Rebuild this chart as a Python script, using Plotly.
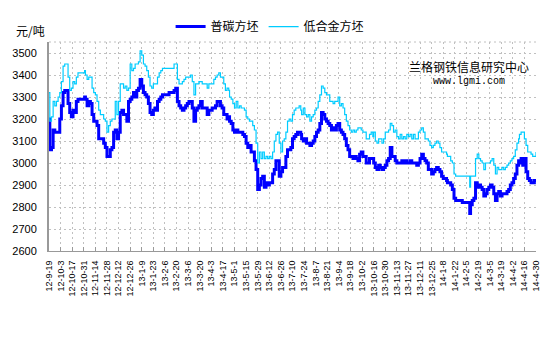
import datetime as dt
import plotly.graph_objects as go

# ---------------- data ----------------
dates = [
    "2012-09-19","2012-09-20","2012-09-22","2012-09-24","2012-09-26","2012-09-28","2012-09-30",
    "2012-10-02","2012-10-04","2012-10-06","2012-10-08","2012-10-10","2012-10-12","2012-10-14","2012-10-16",
    "2012-10-18","2012-10-20","2012-10-22","2012-10-24","2012-10-26","2012-10-28","2012-10-30",
    "2012-11-01","2012-11-02","2012-11-04","2012-11-06","2012-11-08","2012-11-10","2012-11-12","2012-11-14",
    "2012-11-16","2012-11-18","2012-11-20","2012-11-22","2012-11-24","2012-11-26","2012-11-28","2012-11-30",
    "2012-12-02","2012-12-04","2012-12-06","2012-12-08","2012-12-10","2012-12-12","2012-12-14","2012-12-16",
    "2012-12-18","2012-12-20","2012-12-22","2012-12-24","2012-12-26","2012-12-28","2012-12-30",
    "2013-01-01","2013-01-03","2013-01-05","2013-01-07","2013-01-09","2013-01-11","2013-01-13","2013-01-15",
    "2013-01-17","2013-01-19","2013-01-21","2013-01-23","2013-01-25","2013-01-27","2013-01-28","2013-01-30",
    "2013-02-01","2013-02-03","2013-02-05","2013-02-07","2013-02-09","2013-02-11","2013-02-13","2013-02-15",
    "2013-02-17","2013-02-19","2013-02-21","2013-02-23","2013-02-25","2013-02-27",
    "2013-03-01","2013-03-03","2013-03-05","2013-03-07","2013-03-09","2013-03-11","2013-03-13","2013-03-15",
    "2013-03-17","2013-03-19","2013-03-21","2013-03-23","2013-03-25","2013-03-27","2013-03-29","2013-03-31",
    "2013-04-02","2013-04-04","2013-04-06","2013-04-08","2013-04-10","2013-04-12",
    "2013-04-14","2013-04-16","2013-04-18","2013-04-20","2013-04-22","2013-04-24","2013-04-25","2013-04-27","2013-04-29",
    "2013-05-01","2013-05-03","2013-05-05","2013-05-07","2013-05-09","2013-05-11","2013-05-13","2013-05-15",
    "2013-05-17","2013-05-19","2013-05-21","2013-05-23","2013-05-25","2013-05-27","2013-05-29","2013-05-31",
    "2013-06-02","2013-06-04","2013-06-06","2013-06-08","2013-06-10","2013-06-12","2013-06-14","2013-06-16",
    "2013-06-18","2013-06-20","2013-06-22","2013-06-24","2013-06-26","2013-06-28","2013-06-30",
    "2013-07-02","2013-07-04","2013-07-06","2013-07-08","2013-07-10","2013-07-12","2013-07-14","2013-07-16",
    "2013-07-18","2013-07-20","2013-07-21","2013-07-23","2013-07-25","2013-07-27","2013-07-29","2013-07-31",
    "2013-08-02","2013-08-04","2013-08-06","2013-08-08","2013-08-10","2013-08-12","2013-08-14","2013-08-16",
    "2013-08-18","2013-08-20","2013-08-22","2013-08-24","2013-08-26","2013-08-28","2013-08-30",
    "2013-09-01","2013-09-03","2013-09-05","2013-09-07","2013-09-09","2013-09-11","2013-09-13","2013-09-15",
    "2013-09-17","2013-09-19","2013-09-21","2013-09-23","2013-09-25","2013-09-27","2013-09-29",
    "2013-10-01","2013-10-03","2013-10-05","2013-10-07","2013-10-09","2013-10-11","2013-10-13","2013-10-15",
    "2013-10-16","2013-10-18","2013-10-20","2013-10-22","2013-10-24",
    "2013-10-26","2013-10-28","2013-10-30",
    "2013-11-01","2013-11-03","2013-11-05","2013-11-07","2013-11-09","2013-11-11","2013-11-13","2013-11-15",
    "2013-11-17","2013-11-19","2013-11-21","2013-11-23","2013-11-25","2013-11-27","2013-11-29",
    "2013-12-01","2013-12-03","2013-12-05","2013-12-07","2013-12-09","2013-12-11","2013-12-13","2013-12-15",
    "2013-12-17","2013-12-19","2013-12-21","2013-12-23","2013-12-25","2013-12-27","2013-12-29","2013-12-31",
    "2014-01-02","2014-01-04","2014-01-06","2014-01-08","2014-01-10","2014-01-12","2014-01-13","2014-01-15",
    "2014-01-17","2014-01-19","2014-01-21","2014-01-23","2014-01-25","2014-01-27","2014-01-29","2014-01-31",
    "2014-02-02","2014-02-04","2014-02-06","2014-02-08","2014-02-09","2014-02-10","2014-02-12","2014-02-14",
    "2014-02-16","2014-02-18","2014-02-20","2014-02-22","2014-02-24","2014-02-26","2014-02-28",
    "2014-03-02","2014-03-04","2014-03-06","2014-03-08","2014-03-10","2014-03-12","2014-03-14","2014-03-16",
    "2014-03-18","2014-03-20","2014-03-22","2014-03-24","2014-03-26","2014-03-28","2014-03-30",
    "2014-04-01","2014-04-03","2014-04-05","2014-04-07","2014-04-09","2014-04-10","2014-04-12","2014-04-14",
    "2014-04-16","2014-04-18","2014-04-20","2014-04-22","2014-04-24","2014-04-26","2014-04-28","2014-04-30",
]

carbon_billet = [  # 普碳方坯
    3200,3060,3070,3150,3140,3140,3140,
    3200,3260,3320,3330,3330,3270,3230,3210,3240,3230,3280,3290,3290,3290,3290,
    3300,3290,3260,3280,3270,3220,3190,3190,3170,3110,3110,3110,3090,3070,3030,3030,
    3060,3070,3140,3150,3110,3140,3230,3240,3220,3220,3190,3280,3290,3300,3320,
    3300,3330,3340,3380,3350,3320,3310,3300,3270,3230,3220,3240,3250,3240,3280,3290,
    3300,3310,3310,3310,3310,3320,3320,3320,3330,3340,3280,3260,3250,3240,
    3250,3260,3270,3280,3280,3250,3190,3240,3250,3260,3280,3250,3250,3250,3220,3240,
    3240,3250,3250,3260,3280,3280,
    3260,3250,3220,3220,3200,3210,3190,3180,3150,
    3140,3150,3140,3140,3140,3130,3120,3090,3070,3080,3050,3050,3010,2970,2880,2900,
    2930,2940,2890,2910,2900,2910,2910,2950,2970,3010,3010,2940,2960,2980,2980,
    3030,3060,3060,3070,3110,3120,3130,3140,3140,3130,3110,3100,3110,3090,3090,3080,
    3090,3100,3120,3140,3150,3180,3230,3220,3200,3190,3180,3170,3150,3160,3150,
    3170,3180,3150,3140,3130,3110,3080,3060,3030,3030,3020,3030,3020,3010,3040,
    3050,3030,3030,3000,3000,3020,3020,3020,3000,2980,2970,2990,2980,
    2970,2980,2990,
    3010,3020,3070,3030,3030,3010,3000,3000,3000,3010,3000,3010,3000,3000,3010,
    3000,3000,3000,2990,3000,3020,3040,3020,3010,3000,2970,2970,2950,2960,2970,2980,
    2970,2960,2940,2930,2930,2920,2910,2910,2900,2880,2840,2830,2830,2830,2830,2820,
    2820,2820,2820,2820,2770,2810,2830,2840,2910,2890,2900,2890,2880,2850,2860,
    2880,2890,2900,2890,2860,2830,2860,2870,2850,2860,2860,2860,2870,2880,2900,
    2910,2930,2950,2990,3010,3000,3020,2990,3020,2960,2930,2920,2910,2910,2920,2920,
]

low_alloy_billet = [  # 低合金方坯
    3320,3190,3210,3280,3260,3280,3300,
    3320,3370,3440,3450,3450,3390,3330,3340,3370,3360,3390,3410,3410,3410,3410,
    3420,3400,3380,3390,3390,3340,3320,3310,3280,3240,3220,3220,3200,3190,3140,3170,
    3190,3200,3200,3280,3220,3280,3360,3360,3340,3350,3330,3340,3450,3420,3430,
    3450,3450,3460,3510,3490,3450,3440,3420,3390,3350,3340,3360,3360,3360,3390,3410,
    3420,3430,3430,3430,3430,3430,3430,3430,3450,3450,3380,3360,3360,3370,
    3380,3390,3390,3390,3400,3370,3310,3360,3360,3370,3370,3360,3360,3360,3340,3360,
    3360,3360,3380,3390,3400,3410,
    3390,3390,3360,3330,3340,3330,3300,3290,3270,
    3250,3280,3250,3260,3250,3250,3240,3210,3200,3190,3190,3170,3150,3090,3000,3050,
    3020,3050,3020,3030,3020,3030,3020,3050,3100,3130,3140,3090,3050,3100,3110,
    3140,3190,3200,3190,3220,3240,3250,3250,3260,3240,3220,3250,3220,3210,3220,3190,
    3210,3220,3240,3250,3280,3310,3350,3340,3320,3310,3310,3280,3280,3270,3280,
    3280,3300,3260,3270,3250,3220,3190,3170,3150,3140,3150,3140,3150,3160,3160,
    3150,3140,3140,3110,3110,3130,3140,3120,3140,3100,3090,3110,3110,
    3090,3110,3140,
    3140,3150,3180,3170,3140,3150,3120,3110,3130,3110,3120,3110,3130,3120,3130,
    3110,3130,3110,3110,3140,3150,3160,3140,3110,3110,3100,3080,3070,3080,3090,3100,
    3090,3070,3050,3050,3050,3040,3030,3030,3010,3000,2950,2940,2940,2940,2940,2940,
    2940,2940,2940,2940,2890,2940,2940,2940,3020,3040,3020,3010,3000,2970,3000,
    3000,3000,3010,3020,2990,2950,2980,2970,2970,2980,2970,2980,2990,3000,3010,
    3020,3030,3060,3090,3110,3130,3140,3140,3110,3080,3050,3050,3040,3030,3030,3050,
]

tick_labels = [
    "12-9-19","12-10-3","12-10-17","12-10-31","12-11-14","12-11-28","12-12-12","12-12-26",
    "13-1-9","13-1-23","13-2-6","13-2-20","13-3-6","13-3-20","13-4-3","13-4-17","13-5-1",
    "13-5-15","13-5-29","13-6-12","13-6-26","13-7-10","13-7-24","13-8-7","13-8-21","13-9-4",
    "13-9-18","13-10-2","13-10-16","13-10-30","13-11-13","13-11-27","13-12-11","13-12-25",
    "14-1-8","14-1-22","14-2-5","14-2-19","14-3-5","14-3-19","14-4-2","14-4-16","14-4-30",
]
y_ticks = [2600, 2700, 2800, 2900, 3000, 3100, 3200, 3300, 3400, 3500]


def label_to_date(s):
    y, m, d = (int(p) for p in s.split("-"))
    return dt.date(2000 + y, m, d).isoformat()


tick_vals = [label_to_date(s) for s in tick_labels]

NUM_FONT = "Liberation Sans, Arial, sans-serif"
CJK_FONT = "Noto Sans CJK SC, sans-serif"
GRID = "#C0C0C0"

fig = go.Figure()
fig.add_trace(go.Scatter(
    x=dates, y=carbon_billet, name="普碳方坯", mode="lines",
    line=dict(color="#0000FF", width=3, shape="hv"),
))
fig.add_trace(go.Scatter(
    x=dates, y=low_alloy_billet, name="低合金方坯", mode="lines",
    line=dict(color="#00CCFF", width=1.2, shape="hv"),
))

fig.update_xaxes(
    type="date",
    range=[tick_vals[0], tick_vals[-1]],
    tickmode="array", tickvals=tick_vals, ticktext=tick_labels,
    tickangle=-90,
    tickfont=dict(family=NUM_FONT, size=9, color="#000000"),
    showgrid=True, gridcolor=GRID, griddash="2px,3px", gridwidth=1,
    showline=True, linecolor="#999999", linewidth=1,
    ticks="inside", ticklen=4, tickcolor="#999999",
    ticklabelstandoff=5,
    zeroline=False,
)
fig.update_yaxes(
    range=[2600, 3550],
    tickmode="array", tickvals=y_ticks,
    tickfont=dict(family=NUM_FONT, size=11, color="#000000"),
    showgrid=True, gridcolor=GRID, griddash="2px,3px", gridwidth=1,
    showline=True, linecolor="#999999", linewidth=2,
    ticks="", ticklabelstandoff=8,
    zeroline=False,
)

# dotted top border of the plot area
fig.add_shape(type="line", xref="paper", yref="paper", x0=0, x1=1, y0=1, y1=1,
              line=dict(color=GRID, width=1, dash="2px,3px"))

fig.add_annotation(text="元/吨", xref="paper", yref="paper", x=-0.072, y=1.056,
                   xanchor="left", yanchor="middle", showarrow=False,
                   font=dict(family=CJK_FONT, size=12, color="#000000"))
fig.add_annotation(text="兰格钢铁信息研究中心", xref="paper", yref="paper", x=0.863, y=0.884,
                   xanchor="center", yanchor="middle", showarrow=False,
                   font=dict(family=CJK_FONT, size=12, color="#000000"))
fig.add_annotation(text="www.lgmi.com", xref="paper", yref="paper", x=0.863, y=0.809,
                   xanchor="center", yanchor="middle", showarrow=False,
                   font=dict(family="Liberation Mono, monospace", size=10, color="#000000"))

fig.update_layout(
    width=553, height=346,
    margin=dict(l=42, r=13, t=36, b=95),
    paper_bgcolor="#FFFFFF", plot_bgcolor="#FFFFFF",
    showlegend=True,
    legend=dict(orientation="h", x=0.454, xanchor="center", y=1.074, yanchor="middle",
                font=dict(family=CJK_FONT, size=12, color="#000000"),
                bgcolor="rgba(0,0,0,0)", itemwidth=30, tracegroupgap=0),
    hovermode=False,
)

fig.write_html("out.html")
